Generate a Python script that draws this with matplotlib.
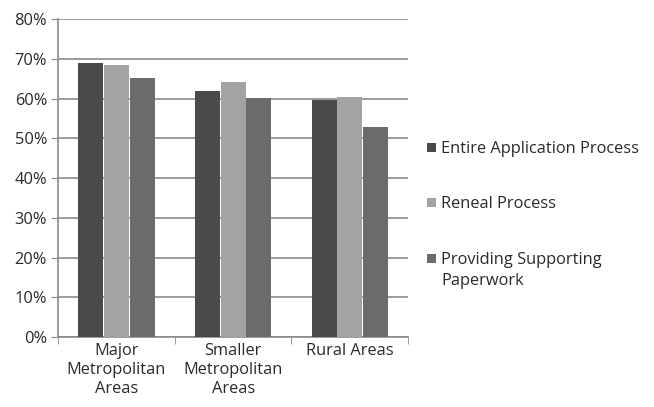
import matplotlib
matplotlib.use('Agg')
from matplotlib import pyplot as plt
from matplotlib.patches import Rectangle
import numpy as np

# data
categories = ["Major\nMetropolitan\nAreas", "Smaller\nMetropolitan\nAreas", "Rural Areas"]
series_names = ["Entire Application Process", "Reneal Process",
                "Providing Supporting\nPaperwork"]
entire_app = [69.0, 61.9, 59.6]
renewal = [68.5, 64.3, 60.5]
paperwork = [65.2, 60.2, 52.8]
colors = ["#4a4a4a", "#a3a3a3", "#6b6b6b"]

plt.rcParams['font.family'] = ['Open Sans', 'DejaVu Sans']
TEXT_COLOR = "#2a2a2a"
FS = 11.8

fig = plt.figure(figsize=(6.54, 4.07), dpi=100)
axes = fig.add_axes([0.089, 0.172, 0.535, 0.781])

x_values = np.arange(len(categories))
width = 0.22
for i, (vals, col) in enumerate(zip([entire_app, renewal, paperwork], colors)):
    axes.bar(x_values + (i - 1) * width, vals, width * 0.98, color=col,
             label=series_names[i], zorder=3)

axes.set_xlim(-0.5, 2.5)
axes.set_ylim(0, 80)
axes.set_yticks(range(0, 81, 10))
axes.set_yticklabels(["%d%%" % v for v in range(0, 81, 10)])
axes.yaxis.grid(True, color="#8a8a8a", linewidth=1.2, zorder=0)

axes.set_xticks(x_values)
axes.set_xticklabels(categories, linespacing=1.25)
axes.set_xticks([-0.5, 0.5, 1.5, 2.5], minor=True)
axes.tick_params(axis='x', which='major', length=0, pad=4)
axes.tick_params(axis='x', which='minor', length=5, color="#8a8a8a")
axes.tick_params(axis='y', length=5, color="#8a8a8a", pad=3)
axes.tick_params(labelsize=FS, labelcolor=TEXT_COLOR)

for side in ['top', 'right']:
    axes.spines[side].set_visible(False)
for side in ['left', 'bottom']:
    axes.spines[side].set_color("#8a8a8a")
    axes.spines[side].set_linewidth(1.2)

# legend drawn by hand so the marker sits on the first text line
W, H = fig.get_size_inches() * fig.dpi
legend_rows = [147, 202, 258]
for name, col, y_px in zip(series_names, colors, legend_rows):
    fy = 1 - y_px / H
    fig.patches.append(Rectangle((427 / W, fy - 4.5 / H), 9 / W, 9 / H,
                                 facecolor=col, transform=fig.transFigure,
                                 figure=fig))
    fig.text(441 / W, fy + 6 / H, name, fontsize=FS, color=TEXT_COLOR,
             va='top', ha='left', linespacing=1.45)

plt.savefig("out.png", dpi=100)
